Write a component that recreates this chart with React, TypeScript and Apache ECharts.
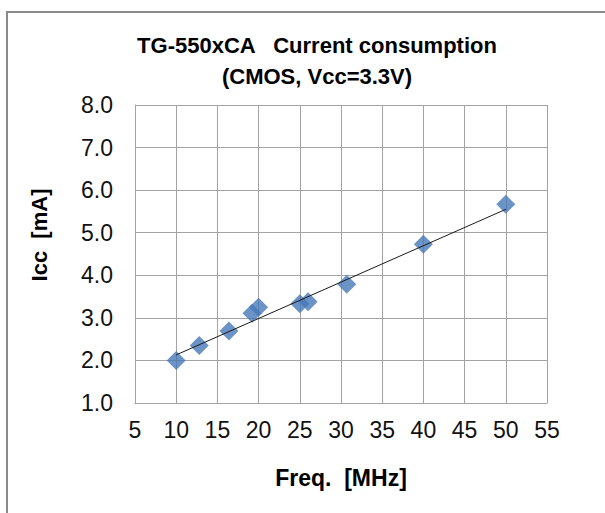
import React, { useEffect, useRef } from "react";
import * as echarts from "echarts";

const freqMHz = [10, 12.8, 16.4, 19.2, 20, 25, 26, 30.7, 40, 50];
const iccMA = [2.0, 2.35, 2.69, 3.11, 3.25, 3.33, 3.38, 3.79, 4.73, 5.67];
const trendFreq = [10, 50];
const trendIcc = [2.13, 5.55];

const titleLines = ["TG-550xCA   Current consumption", "(CMOS, Vcc=3.3V)"];
const xName = "Freq.  [MHz]";
const yName = "Icc  [mA]";

export default function App() {
  const ref = useRef<HTMLDivElement>(null);
  useEffect(() => {
    if (!ref.current) return;
    const chart = echarts.init(ref.current, null, { renderer: "svg" });
    const gridColor = "#a3a3a3";
    const tickFont = "'Liberation Sans', Arial, sans-serif";
    chart.setOption({
      animation: false,
      backgroundColor: "#ffffff",
      title: {
        text: titleLines.join("\n"),
        left: 312,
        top: 25,
        textAlign: "center",
        textStyle: {
          fontFamily: tickFont,
          fontWeight: "bold",
          fontSize: 22,
          lineHeight: 31,
          color: "#000",
        },
      },
      grid: { left: 135, top: 105, right: 58, bottom: 110, containLabel: false },
      xAxis: {
        type: "value",
        min: 5,
        max: 55,
        interval: 5,
        axisLine: { show: true, lineStyle: { color: gridColor, width: 1 } },
        axisTick: { show: false },
        splitLine: { show: true, lineStyle: { color: gridColor, width: 1 } },
        axisLabel: {
          margin: 15,
          fontFamily: tickFont,
          fontSize: 23,
          color: "#111",
          formatter: (v: number) => String(v),
        },
        name: xName,
        nameLocation: "middle",
        nameGap: 63,
        nameTextStyle: {
          fontFamily: tickFont,
          fontWeight: "bold",
          fontSize: 23,
          color: "#000",
        },
      },
      yAxis: {
        type: "value",
        min: 1,
        max: 8,
        interval: 1,
        axisLine: { show: true, lineStyle: { color: gridColor, width: 1 } },
        axisTick: { show: false },
        splitLine: { show: true, lineStyle: { color: gridColor, width: 1 } },
        axisLabel: {
          margin: 22,
          fontFamily: tickFont,
          fontSize: 23,
          color: "#111",
          formatter: (v: number) => v.toFixed(1),
        },
      },
      graphic: [
        {
          type: "rect",
          shape: { x: 7, y: 12, width: 800, height: 800 },
          style: { fill: "none", stroke: "#8a8a8a", lineWidth: 2 },
          silent: true,
        },
        {
          type: "text",
          x: 39,
          y: 235,
          rotation: Math.PI / 2,
          style: {
            text: yName,
            fontFamily: tickFont,
            fontWeight: "bold",
            fontSize: 22,
            fill: "#000",
            align: "center",
            verticalAlign: "middle",
          },
        },
      ],
      series: [
        {
          type: "scatter",
          data: freqMHz.map((f, i) => [f, iccMA[i]]),
          symbol: "diamond",
          symbolSize: 19,
          itemStyle: { color: "#4778b8" },
          z: 2,
        },
        {
          type: "line",
          data: trendFreq.map((f, i) => [f, trendIcc[i]]),
          symbol: "none",
          lineStyle: { color: "#1a1a1a", width: 1 },
          z: 3,
        },
      ],
    });
    return () => chart.dispose();
  }, []);
  return (
    <div
      ref={ref}
      style={{ position: "fixed", left: 0, top: 0, width: 605, height: 513 }}
    />
  );
}
